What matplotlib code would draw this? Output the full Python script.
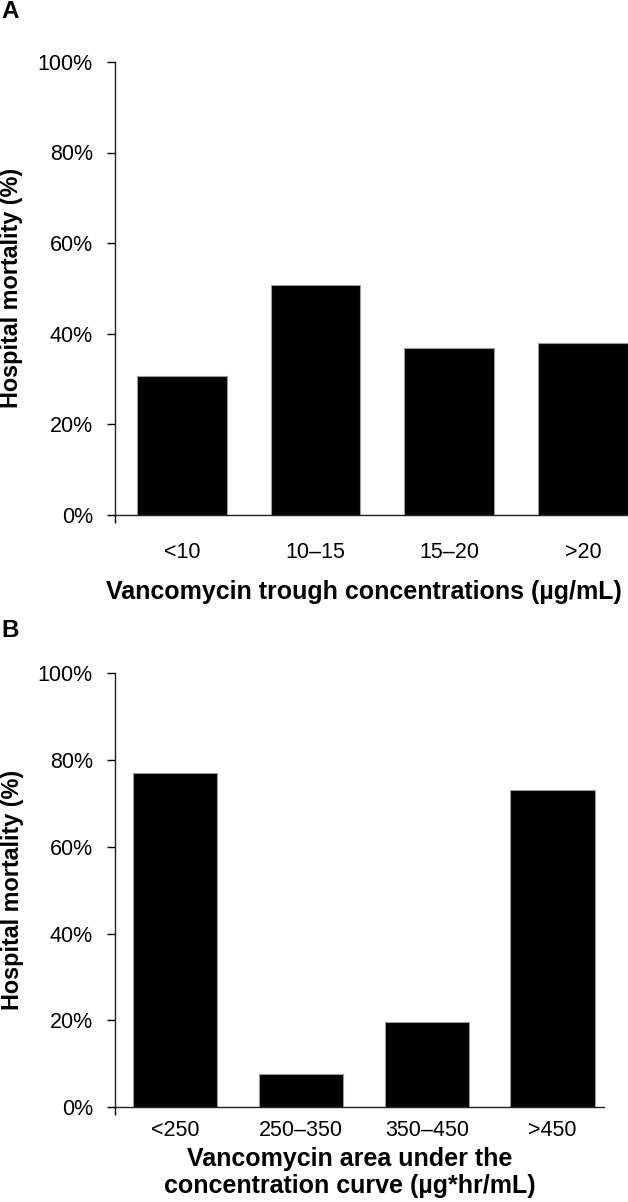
import matplotlib
matplotlib.use("Agg")
import matplotlib.pyplot as plt
from matplotlib.ticker import PercentFormatter

plt.rcParams.update({
    "font.family": ["Liberation Sans", "DejaVu Sans"],
    "axes.linewidth": 1.0,
})

# Panel A: trough concentrations
trough_cats = ["<10", "10\u201315", "15\u201320", ">20"]
trough_mortality = [30.6, 50.7, 36.8, 38.0]

# Panel B: AUC
auc_cats = ["<250", "250\u2013350", "350\u2013450", ">450"]
auc_mortality = [77.0, 7.7, 19.6, 73.2]

yticks = [0, 20, 40, 60, 80, 100]

W, H = 628, 1202
fig = plt.figure(figsize=(W / 100, H / 100), dpi=100)


def px_axes(left, top, right, bottom):
    return fig.add_axes([left / W, 1 - bottom / H, (right - left) / W, (bottom - top) / H])


def style(ax, cats, vals, xlim, xpad):
    x = range(len(cats))
    ax.bar(x, vals, width=0.67, color="black", edgecolor="#9a9a9a", linewidth=0.8)
    ax.set_xlim(*xlim)
    ax.set_ylim(0, 100)
    ax.set_yticks(yticks)
    ax.yaxis.set_major_formatter(PercentFormatter(decimals=0))
    ax.set_xticks(list(x))
    ax.set_xticklabels(cats)
    ax.tick_params(axis="x", length=0, pad=xpad, labelsize=15.5)
    ax.tick_params(axis="y", length=6, width=1.0, pad=10, labelsize=15.5, direction="out")
    # small tick where the category axis meets the value axis
    ax.set_xticks([xlim[0]], minor=True)
    ax.tick_params(axis="x", which="minor", length=5.5, width=1.0, direction="out")
    for s in ("top", "right"):
        ax.spines[s].set_visible(False)
    for s in ("left", "bottom"):
        ax.spines[s].set_color("#222222")


# ---- panel A ----
axA = px_axes(115, 62, 628, 514.5)
style(axA, trough_cats, trough_mortality, (-0.5, 3.337), 20)
axA.set_xlabel("Vancomycin trough concentrations (\u00b5g/mL)", fontsize=18,
               fontweight="bold", va="center")
axA.xaxis.set_label_coords(0.486, -0.171)
axA.set_ylabel("Hospital mortality (%)", fontsize=16.8, fontweight="bold", va="center")
axA.yaxis.set_label_coords(-0.201, 0.5)

# ---- panel B ----
axB = px_axes(115, 673.3, 604, 1107)
style(axB, auc_cats, auc_mortality, (-0.48, 3.41), 9)
axB.set_xlabel("Vancomycin area under the\nconcentration curve (\u00b5g*hr/mL)",
               fontsize=18, fontweight="bold", va="center", linespacing=1.12)
axB.xaxis.set_label_coords(0.48, -0.151)
axB.set_ylabel("Hospital mortality (%)", fontsize=16.8, fontweight="bold", va="center")
axB.yaxis.set_label_coords(-0.2106, 0.5)

fig.text(10 / W, 1 - 11.5 / H, "A", fontsize=17.5, fontweight="bold", ha="center", va="center")
fig.text(10.5 / W, 1 - 630.5 / H, "B", fontsize=17.5, fontweight="bold", ha="center", va="center")

fig.savefig("out.png", dpi=100)
